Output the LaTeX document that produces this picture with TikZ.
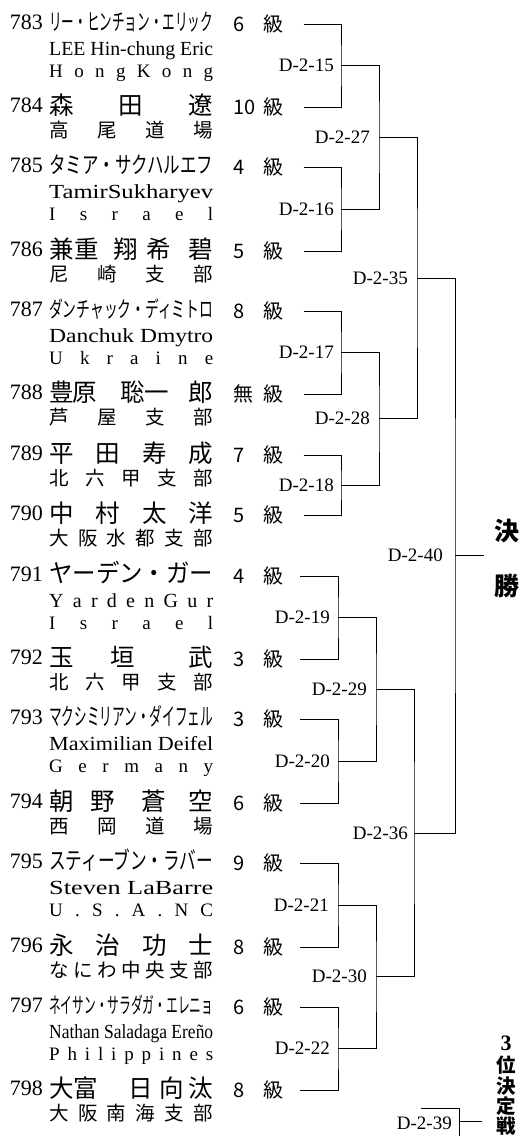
\documentclass[tikz,border=0pt]{standalone}
\usepackage{fontspec}
\usepackage{graphicx}
\setmainfont{Liberation Serif}
\newfontfamily\jp{Noto Sans CJK JP}
\newcommand{\fitw}[1]{\resizebox{164pt}{\height}{#1}}
\newcommand{\spr}[1]{\makebox[164pt][l]{#1}}
\newcommand{\sprs}[1]{\makebox[164pt][s]{#1}}
\tikzset{
  num/.style={anchor=base east, inner sep=0pt, font=\fontsize{22}{22}\selectfont},
  nmj/.style={anchor=base west, inner sep=0pt, font=\jp\fontsize{24.5}{24.5}\selectfont},
  kana/.style={anchor=base west, inner sep=0pt},
  subj/.style={anchor=base west, inner sep=0pt, font=\jp\fontsize{19.5}{19.5}\selectfont},
  lat/.style={anchor=base west, inner sep=0pt, font=\fontsize{20}{20}\selectfont},
  ctry/.style={anchor=base west, inner sep=0pt, font=\fontsize{19}{19}\selectfont},
  grd/.style={anchor=base west, inner sep=0pt, font=\jp\fontsize{20}{20}\selectfont},
  lab/.style={anchor=east, inner sep=0pt, font=\fontsize{19}{19}\selectfont},
  bigt/.style={inner sep=0pt, font=\jp\bfseries\fontsize{25}{25}\selectfont},
  thirdt/.style={inner sep=0pt, font=\jp\bfseries\fontsize{19.5}{19.5}\selectfont},
  wire/.style={line width=1pt},
}
% Japanese entry: L, number, name, sub, grade
\newcommand{\entryJ}[5]{%
  \node[num] (n#2) at (43,#1+5) {#2};
  \node[nmj] (a#2) at (49,#1+7) {\spr{#3}};
  \node[subj] (b#2) at (49,#1+30.5) {\spr{#4}};
  \node[grd] (g#2) at (233,#1+7) {#5};
  \node[grd] (k#2) at (263,#1+7.5) {級};
}
% Foreign entry: L, number, kana size, kana, latin, country, grade
\newcommand{\entryF}[7]{%
  \node[num] (n#2) at (43,#1+5) {#2};
  \node[kana, font=\jp\fontsize{#3}{#3}\selectfont] (a#2) at (49,#1+6.5) {\fitw{#4}};
  \node[lat] (b#2) at (49,#1+31) {\fitw{#5}};
  \node[ctry] (c#2) at (49,#1+53) {\sprs{#6}};
  \node[grd] (g#2) at (233,#1+7) {#7};
  \node[grd] (k#2) at (263,#1+7.5) {級};
}
\begin{document}
\begin{tikzpicture}[x=1pt,y=-1pt]
\useasboundingbox (0,0) rectangle (526,1136);

\entryF{24}{783}{23}{リー・ヒンチョン・エリック}{LEE Hin-chung Eric}{H o n g K o n g}{6}
\entryJ{107}{784}{森\hfill 田\hfill 遼}{高\hfill 尾\hfill 道\hfill 場}{10}
\entryF{167}{785}{23}{タミア・サクハルエフ}{TamirSukharyev}{I s r a e l}{4}
\entryJ{251}{786}{兼\kern1pt 重\hfill 翔\kern8pt 希\kern18pt 碧}{尼\hfill 崎\hfill 支\hfill 部}{5}
\entryF{311}{787}{22}{ダンチャック・ディミトロ}{Danchuk Dmytro}{U k r a i n e}{8}
\entryJ{394}{788}{豊\kern-1pt 原\hfill 聡\kern-1pt 一\kern20pt 郎}{芦\hfill 屋\hfill 支\hfill 部}{無}
\entryJ{455}{789}{平\hfill 田\hfill 寿\hfill 成}{北\hfill 六\hfill 甲\hfill 支\hfill 部}{7}
\entryJ{515}{790}{中\hfill 村\hfill 太\hfill 洋}{大\hfill 阪\hfill 水\hfill 都\hfill 支\hfill 部}{5}
\entryF{576}{791}{25}{ヤーデン・ガー}{\sprs{Y a r d e n G u r}}{I s r a e l}{4}
\entryJ{659}{792}{玉\kern37pt 垣\hfill 武}{北\hfill 六\hfill 甲\hfill 支\hfill 部}{3}
\entryF{719}{793}{24}{マクシミリアン・ダイフェル}{Maximilian Deifel}{G e r m a n y}{3}
\entryJ{803}{794}{朝\kern17pt 野\hfill 蒼\kern23pt 空}{西\hfill 岡\hfill 道\hfill 場}{6}
\entryF{863}{795}{24}{スティーブン・ラバー}{Steven LaBarre}{U . S . A . N C}{9}
\entryJ{947}{796}{永\hfill 治\hfill 功\hfill 士}{な\hfill に\hfill わ\hfill 中\hfill 央\hfill 支\hfill 部}{8}
\entryF{1007}{797}{22}{ネイサン・サラダガ・エレニョ}{Nathan Saladaga Ereño}{P h i l i p p i n e s}{6}
\entryJ{1090}{798}{大富\hfill 日\kern6pt 向\kern5pt 汰}{大\hfill 阪\hfill 南\hfill 海\hfill 支\hfill 部}{8}

% line starts
\coordinate (s783) at (303.7,24);
\coordinate (s784) at (303.7,107);
\coordinate (s785) at (303.7,167);
\coordinate (s786) at (303.7,251);
\coordinate (s787) at (303.7,311);
\coordinate (s788) at (303.7,394);
\coordinate (s789) at (303.7,455);
\coordinate (s790) at (303.7,515);
\coordinate (s791) at (300.3,576);
\coordinate (s792) at (300.3,659);
\coordinate (s793) at (300.3,719);
\coordinate (s794) at (300.3,803);
\coordinate (s795) at (300.3,863);
\coordinate (s796) at (300.3,947);
\coordinate (s797) at (300.3,1007);
\coordinate (s798) at (300.3,1090);
% joins
\coordinate (j15) at (341,65.5);
\coordinate (j16) at (341,209);
\coordinate (j17) at (341,352.5);
\coordinate (j18) at (341,485);
\coordinate (j19) at (338,617.5);
\coordinate (j20) at (338,761);
\coordinate (j21) at (338,905);
\coordinate (j22) at (338,1048.5);
\coordinate (j27) at (379,137.25);
\coordinate (j28) at (379,418.75);
\coordinate (j29) at (376,689.25);
\coordinate (j30) at (376,976.75);
\coordinate (j35) at (417,278);
\coordinate (j36) at (414,833);
\coordinate (j40) at (455,555.5);
\coordinate (fin) at (484,555.5);

\draw[wire] (s783) -| (j15) |- (s784);
\draw[wire] (s785) -| (j16) |- (s786);
\draw[wire] (s787) -| (j17) |- (s788);
\draw[wire] (s789) -| (j18) |- (s790);
\draw[wire] (s791) -| (j19) |- (s792);
\draw[wire] (s793) -| (j20) |- (s794);
\draw[wire] (s795) -| (j21) |- (s796);
\draw[wire] (s797) -| (j22) |- (s798);
\draw[wire] (j15) -| (j27) |- (j16);
\draw[wire] (j17) -| (j28) |- (j18);
\draw[wire] (j19) -| (j29) |- (j20);
\draw[wire] (j21) -| (j30) |- (j22);
\draw[wire] (j27) -| (j35) |- (j28);
\draw[wire] (j29) -| (j36) |- (j30);
\draw[wire] (j35) -| (j40) |- (j36);
\draw[wire] (j40) -- (fin);

\node[lab] (l15) at ([xshift=-7pt]j15) {D-2-15};
\node[lab] (l16) at ([xshift=-7pt]j16) {D-2-16};
\node[lab] (l17) at ([xshift=-7pt]j17) {D-2-17};
\node[lab] (l18) at ([xshift=-7pt]j18) {D-2-18};
\node[lab] (l19) at ([xshift=-8pt]j19) {D-2-19};
\node[lab] (l20) at ([xshift=-8pt]j20) {D-2-20};
\node[lab] (l21) at ([xshift=-9pt]j21) {D-2-21};
\node[lab] (l22) at ([xshift=-8pt]j22) {D-2-22};
\node[lab] (l27) at ([xshift=-9pt]j27) {D-2-27};
\node[lab] (l28) at ([xshift=-9pt]j28) {D-2-28};
\node[lab] (l29) at ([xshift=-9pt]j29) {D-2-29};
\node[lab] (l30) at ([xshift=-9pt]j30) {D-2-30};
\node[lab] (l35) at ([xshift=-9pt]j35) {D-2-35};
\node[lab] (l36) at ([xshift=-6pt]j36) {D-2-36};
\node[lab] (l40) at ([xshift=-12pt]j40) {D-2-40};

% third place
\coordinate (q1) at (421,1108);
\coordinate (q2) at (459,1108);
\coordinate (q3) at (459,1136);
\coordinate (q4) at (459,1121.7);
\coordinate (q5) at (482,1121.7);
\draw[wire] (q1) -- (q2) -- (q3);
\draw[wire] (q4) -- (q5);
\node[lab] (l39) at (452,1123.5) {D-2-39};

% titles
\node[bigt] (w1) at (507,531) {決};
\node[bigt] (w2) at (507,586) {勝};
\node[thirdt] (t1) at (506,1043) {\rmfamily\bfseries\fontsize{22}{22}\selectfont 3};
\node[thirdt] (t2) at (506,1065) {位};
\node[thirdt] (t3) at (506,1086) {決};
\node[thirdt] (t4) at (506,1106) {定};
\node[thirdt] (t5) at (506,1126) {戦};
\end{tikzpicture}
\end{document}
